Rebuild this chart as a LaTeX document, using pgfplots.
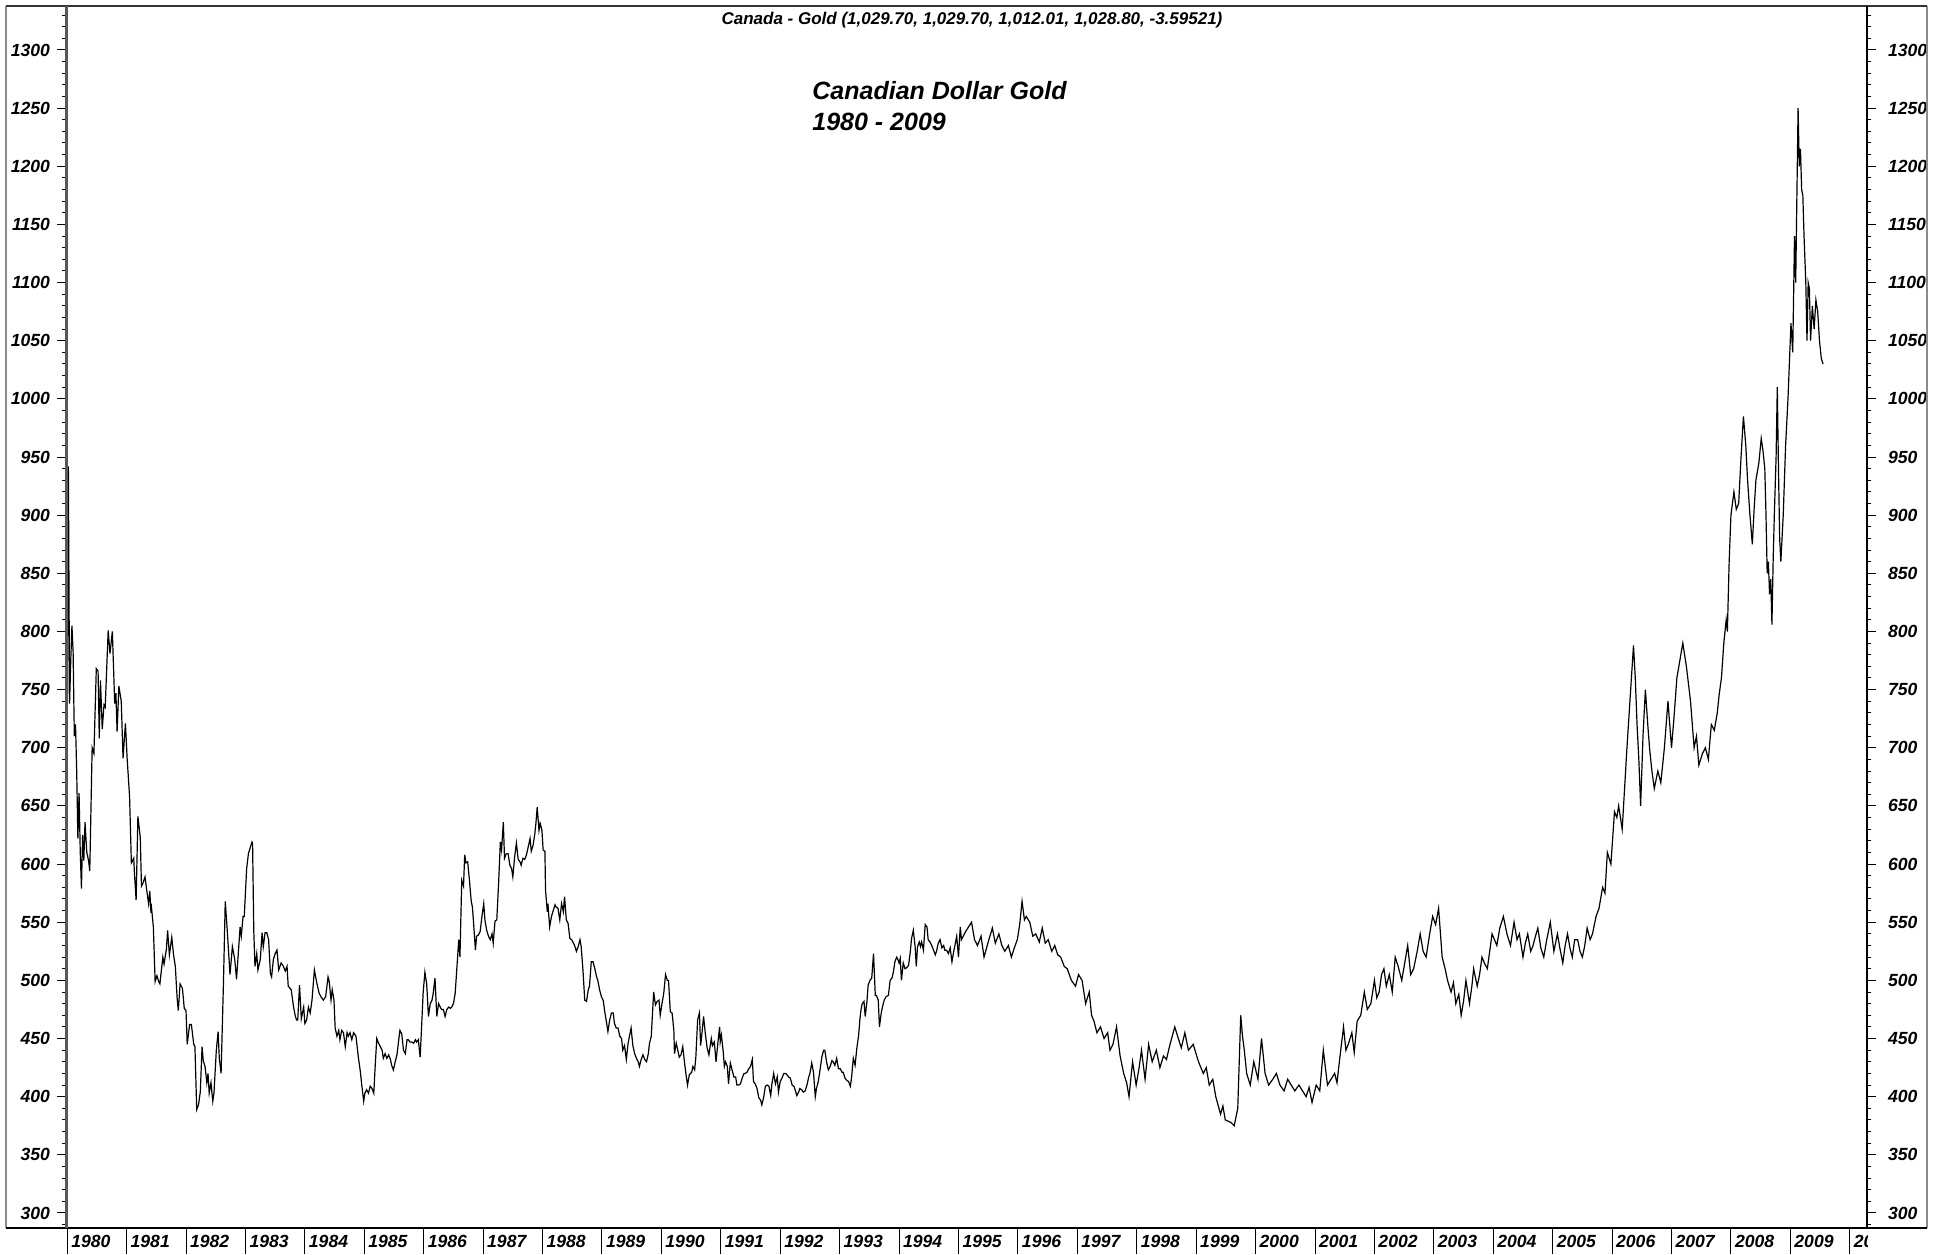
\documentclass[border=0pt]{standalone}
\usepackage{fontspec}
\setmainfont{Liberation Sans}
\usepackage{pgfplots}
\pgfplotsset{compat=1.18}

\newcommand\tickfont{\fontsize{8.8}{10}\selectfont\bfseries\itshape}

\pgfplotsset{
  goldaxis/.style={
    scale only axis, width=900.5pt, height=611pt,
    at={(33pt,13pt)}, anchor=south west,
    xmin=1979.98, xmax=2010.29, ymin=287.1, ymax=1337.8,
    axis line style={draw=none},
    tick align=outside,
    tick style={black, line width=0.5pt},
    /pgf/number format/assume math mode=true,
    /pgf/number format/1000 sep={},
  },
}

\begin{document}
\begin{tikzpicture}
% main axis: data and left scale
\begin{axis}[goldaxis,
  xtick=\empty,
  ytick={300,350,...,1300},
  minor ytick={290,300,...,1330},
  ytick pos=left, yticklabel pos=left,
  major tick length=4.5pt, minor tick length=2pt,
  yticklabel style={font=\tickfont},
]
\addplot[black, line width=0.6pt] table {
1980.00 704
1980.02 942
1980.04 738
1980.06 775
1980.08 805
1980.10 782
1980.12 710
1980.14 720
1980.16 680
1980.18 622
1980.20 661
1980.22 610
1980.24 579
1980.26 625
1980.28 603
1980.30 636
1980.33 610
1980.36 603
1980.38 594
1980.42 700
1980.45 695
1980.49 768
1980.52 766
1980.54 708
1980.56 758
1980.59 716
1980.62 737
1980.64 735
1980.69 801
1980.72 781
1980.76 800
1980.80 738
1980.82 747
1980.84 714
1980.87 753
1980.91 740
1980.94 691
1980.98 721
1981.01 690
1981.05 658
1981.08 601
1981.12 605
1981.13 594
1981.16 569
1981.19 641
1981.23 623
1981.25 581
1981.27 583
1981.31 589
1981.34 577
1981.37 566
1981.39 577
1981.41 558
1981.42 562
1981.45 546
1981.48 499
1981.51 504
1981.54 499
1981.56 497
1981.61 520
1981.63 514
1981.67 527
1981.69 543
1981.72 522
1981.76 537
1981.79 522
1981.82 512
1981.85 485
1981.87 474
1981.90 497
1981.94 493
1981.97 476
1982.00 474
1982.02 445
1982.06 462
1982.09 462
1982.13 445
1982.15 443
1982.18 389
1982.21 393
1982.24 404
1982.27 443
1982.29 431
1982.32 426
1982.35 412
1982.37 420
1982.39 403
1982.42 412
1982.45 396
1982.47 403
1982.51 440
1982.54 456
1982.56 433
1982.59 420
1982.63 498
1982.66 568
1982.69 546
1982.74 505
1982.78 529
1982.82 518
1982.85 501
1982.91 546
1982.93 538
1982.96 555
1982.98 555
1983.02 596
1983.05 609
1983.08 614
1983.11 619
1983.12 618
1983.14 543
1983.16 512
1983.19 523
1983.21 509
1983.25 518
1983.28 541
1983.30 529
1983.33 541
1983.36 541
1983.39 535
1983.42 506
1983.44 503
1983.47 518
1983.50 523
1983.53 526
1983.56 509
1983.60 515
1983.64 512
1983.67 508
1983.70 512
1983.72 495
1983.77 492
1983.81 477
1983.84 469
1983.86 466
1983.88 466
1983.91 496
1983.94 467
1983.98 477
1984.00 463
1984.03 466
1984.06 477
1984.09 472
1984.12 483
1984.16 509
1984.20 498
1984.24 489
1984.27 486
1984.31 483
1984.35 486
1984.39 503
1984.41 499
1984.44 483
1984.46 492
1984.49 483
1984.51 459
1984.54 452
1984.57 457
1984.59 449
1984.62 457
1984.65 455
1984.68 443
1984.71 455
1984.73 452
1984.76 455
1984.79 449
1984.82 455
1984.86 452
1984.90 434
1984.93 423
1984.96 409
1984.99 396
1985.01 403
1985.04 406
1985.07 403
1985.10 409
1985.13 407
1985.16 403
1985.18 423
1985.21 450
1985.24 446
1985.27 443
1985.30 440
1985.32 433
1985.35 437
1985.38 433
1985.41 436
1985.44 432
1985.46 427
1985.49 423
1985.52 430
1985.55 436
1985.58 449
1985.60 457
1985.63 454
1985.66 440
1985.69 437
1985.72 449
1985.74 449
1985.77 447
1985.80 447
1985.83 446
1985.86 449
1985.88 447
1985.91 449
1985.94 434
1985.97 466
1985.99 489
1986.02 507
1986.05 497
1986.08 469
1986.11 480
1986.14 483
1986.16 489
1986.19 502
1986.22 469
1986.25 480
1986.28 477
1986.30 475
1986.33 475
1986.36 469
1986.39 475
1986.42 477
1986.45 476
1986.47 477
1986.50 480
1986.53 489
1986.56 512
1986.59 535
1986.61 520
1986.64 586
1986.67 581
1986.69 608
1986.71 601
1986.74 602
1986.77 586
1986.80 568
1986.82 563
1986.84 549
1986.87 526
1986.89 538
1986.92 539
1986.95 542
1986.98 555
1987.01 566
1987.03 552
1987.06 543
1987.09 538
1987.12 535
1987.15 540
1987.17 532
1987.20 551
1987.23 552
1987.26 583
1987.29 619
1987.31 612
1987.34 636
1987.36 605
1987.39 609
1987.42 609
1987.45 599
1987.48 596
1987.50 589
1987.53 606
1987.56 618
1987.59 604
1987.62 602
1987.64 599
1987.67 605
1987.70 604
1987.73 608
1987.76 615
1987.79 622
1987.81 611
1987.84 616
1987.87 626
1987.89 636
1987.91 649
1987.94 629
1987.96 635
1987.99 629
1988.01 612
1988.04 611
1988.05 578
1988.08 559
1988.09 566
1988.12 546
1988.15 555
1988.18 560
1988.21 565
1988.23 563
1988.26 562
1988.29 552
1988.32 566
1988.35 559
1988.37 572
1988.40 552
1988.43 549
1988.46 536
1988.49 535
1988.51 533
1988.54 530
1988.57 525
1988.60 529
1988.63 535
1988.65 529
1988.68 509
1988.71 483
1988.74 482
1988.77 492
1988.79 495
1988.82 516
1988.85 516
1988.88 510
1988.91 503
1988.93 500
1988.96 492
1988.99 486
1989.02 483
1989.05 472
1989.07 466
1989.10 456
1989.13 466
1989.16 472
1989.19 472
1989.21 463
1989.24 459
1989.27 459
1989.30 452
1989.33 450
1989.35 440
1989.38 444
1989.41 432
1989.44 446
1989.47 454
1989.49 459
1989.52 444
1989.55 437
1989.58 433
1989.61 430
1989.63 426
1989.66 432
1989.69 436
1989.72 432
1989.75 430
1989.78 437
1989.80 446
1989.83 452
1989.87 490
1989.90 479
1989.93 482
1989.96 483
1989.98 470
1990.01 480
1990.04 489
1990.07 505
1990.10 500
1990.12 500
1990.14 482
1990.15 473
1990.18 472
1990.21 457
1990.22 437
1990.25 446
1990.28 439
1990.30 434
1990.33 436
1990.36 443
1990.39 429
1990.42 417
1990.44 410
1990.47 419
1990.51 421
1990.53 426
1990.56 423
1990.58 434
1990.61 466
1990.64 472
1990.66 444
1990.68 453
1990.71 469
1990.74 454
1990.77 442
1990.80 436
1990.84 450
1990.86 444
1990.89 447
1990.92 430
1990.95 446
1990.98 460
1990.99 447
1991.01 453
1991.04 439
1991.06 426
1991.08 430
1991.11 426
1991.13 411
1991.16 429
1991.19 423
1991.22 417
1991.25 417
1991.27 410
1991.30 410
1991.33 411
1991.36 416
1991.39 420
1991.41 420
1991.44 421
1991.47 424
1991.50 426
1991.53 432
1991.55 413
1991.58 411
1991.61 407
1991.64 399
1991.67 397
1991.69 393
1991.72 399
1991.75 409
1991.78 410
1991.81 409
1991.84 401
1991.86 411
1991.89 420
1991.92 411
1991.95 417
1991.97 404
1992.00 413
1992.03 416
1992.06 420
1992.09 420
1992.11 419
1992.14 417
1992.17 416
1992.20 410
1992.23 409
1992.25 406
1992.28 401
1992.31 404
1992.33 407
1992.36 406
1992.39 404
1992.42 405
1992.45 410
1992.48 417
1992.50 420
1992.53 429
1992.56 421
1992.59 400
1992.61 407
1992.64 413
1992.67 423
1992.70 434
1992.73 440
1992.75 440
1992.78 430
1992.81 423
1992.84 426
1992.87 431
1992.89 430
1992.92 427
1992.95 433
1992.98 424
1993.01 424
1993.04 421
1993.06 421
1993.09 416
1993.12 414
1993.15 413
1993.18 409
1993.20 416
1993.23 433
1993.26 427
1993.29 442
1993.32 453
1993.34 466
1993.36 475
1993.38 480
1993.41 482
1993.43 469
1993.46 482
1993.48 496
1993.51 500
1993.54 502
1993.57 523
1993.60 487
1993.62 487
1993.65 483
1993.67 460
1993.70 472
1993.72 477
1993.75 483
1993.78 486
1993.82 487
1993.85 500
1993.88 502
1993.90 506
1993.93 516
1993.96 520
1993.98 518
1994.00 515
1994.02 519
1994.04 500
1994.07 515
1994.10 510
1994.13 511
1994.16 513
1994.19 525
1994.21 536
1994.24 543
1994.27 529
1994.29 512
1994.31 529
1994.34 533
1994.36 529
1994.38 533
1994.41 526
1994.44 548
1994.47 546
1994.49 535
1994.52 533
1994.55 530
1994.58 526
1994.61 522
1994.63 525
1994.66 532
1994.69 535
1994.72 528
1994.75 530
1994.77 526
1994.80 526
1994.83 523
1994.86 528
1994.89 516
1994.92 525
1994.94 530
1994.97 538
1995.00 520
1995.03 546
1995.05 535
1995.12 542
1995.22 550
1995.27 535
1995.32 530
1995.38 538
1995.43 520
1995.50 533
1995.57 545
1995.62 532
1995.68 540
1995.73 530
1995.78 525
1995.84 530
1995.89 520
1995.94 528
1995.99 535
1996.03 548
1996.07 568
1996.11 552
1996.14 555
1996.20 550
1996.25 538
1996.30 540
1996.36 533
1996.41 545
1996.46 532
1996.51 535
1996.57 525
1996.62 530
1996.67 522
1996.72 520
1996.78 512
1996.83 510
1996.90 500
1996.97 495
1997.02 505
1997.08 500
1997.14 480
1997.20 490
1997.24 470
1997.28 465
1997.33 455
1997.39 460
1997.45 450
1997.51 455
1997.55 440
1997.60 445
1997.66 460
1997.72 435
1997.78 420
1997.83 412
1997.87 400
1997.93 430
1997.99 410
1998.04 425
1998.08 440
1998.14 415
1998.20 445
1998.26 430
1998.33 440
1998.39 425
1998.45 435
1998.50 432
1998.56 445
1998.64 460
1998.70 450
1998.75 442
1998.81 455
1998.87 440
1998.95 445
1999.04 430
1999.12 420
1999.17 425
1999.22 410
1999.28 415
1999.33 400
1999.41 385
1999.45 392
1999.49 380
1999.58 378
1999.64 375
1999.70 390
1999.75 470
1999.78 452
1999.81 440
1999.85 420
1999.91 410
1999.97 430
2000.04 415
2000.10 450
2000.16 420
2000.22 410
2000.29 415
2000.35 420
2000.41 410
2000.48 405
2000.54 415
2000.60 410
2000.66 405
2000.73 410
2000.79 405
2000.85 400
2000.90 408
2000.95 395
2001.02 410
2001.08 405
2001.14 440
2001.21 410
2001.27 415
2001.33 420
2001.37 412
2001.41 430
2001.48 460
2001.52 440
2001.56 445
2001.62 455
2001.66 438
2001.71 465
2001.77 470
2001.83 490
2001.88 475
2001.94 480
2002.00 500
2002.04 485
2002.08 490
2002.12 505
2002.16 510
2002.20 495
2002.25 505
2002.30 490
2002.35 520
2002.40 512
2002.46 500
2002.51 515
2002.56 530
2002.61 505
2002.66 510
2002.72 525
2002.77 540
2002.82 525
2002.87 520
2002.93 540
2002.98 555
2003.03 548
2003.08 562
2003.14 520
2003.19 510
2003.23 500
2003.29 490
2003.33 498
2003.37 480
2003.42 488
2003.46 470
2003.50 482
2003.54 500
2003.60 480
2003.64 495
2003.67 510
2003.73 495
2003.77 505
2003.81 520
2003.85 515
2003.90 510
2003.94 525
2003.98 540
2004.02 535
2004.06 530
2004.11 545
2004.17 555
2004.23 540
2004.29 530
2004.35 550
2004.40 535
2004.44 540
2004.50 520
2004.54 532
2004.58 540
2004.63 525
2004.67 530
2004.71 538
2004.75 545
2004.80 528
2004.85 520
2004.90 535
2004.96 550
2005.02 525
2005.08 540
2005.12 528
2005.17 515
2005.21 530
2005.25 540
2005.29 528
2005.33 520
2005.37 535
2005.42 535
2005.46 525
2005.50 520
2005.54 530
2005.58 545
2005.63 535
2005.67 540
2005.73 555
2005.78 562
2005.84 580
2005.88 575
2005.92 610
2005.98 600
2006.04 645
2006.08 640
2006.11 650
2006.17 630
2006.21 665
2006.25 700
2006.30 740
2006.36 788
2006.39 760
2006.42 720
2006.45 690
2006.48 650
2006.52 710
2006.56 750
2006.60 720
2006.63 700
2006.67 680
2006.71 665
2006.77 680
2006.82 670
2006.88 700
2006.94 740
2007.00 700
2007.04 725
2007.09 760
2007.14 775
2007.19 790
2007.25 770
2007.32 740
2007.38 700
2007.42 710
2007.46 685
2007.52 695
2007.57 700
2007.62 690
2007.67 720
2007.72 715
2007.77 730
2007.80 745
2007.84 760
2007.88 790
2007.92 810
2007.94 800
2007.97 860
2008.00 900
2008.05 920
2008.09 905
2008.13 910
2008.17 950
2008.21 985
2008.25 960
2008.28 930
2008.32 900
2008.36 875
2008.39 905
2008.42 930
2008.47 945
2008.51 966
2008.54 955
2008.57 940
2008.59 900
2008.61 850
2008.63 860
2008.65 832
2008.67 845
2008.69 806
2008.71 860
2008.73 900
2008.76 950
2008.78 1010
2008.80 940
2008.82 880
2008.84 860
2008.88 900
2008.92 960
2008.96 1000
2009.01 1065
2009.04 1040
2009.07 1140
2009.09 1100
2009.13 1250
2009.15 1200
2009.17 1215
2009.19 1180
2009.21 1175
2009.23 1140
2009.26 1100
2009.28 1050
2009.30 1100
2009.32 1095
2009.34 1050
2009.37 1080
2009.40 1060
2009.43 1085
2009.46 1075
2009.49 1050
2009.52 1035
2009.55 1030
};
\end{axis}
% right scale
\begin{axis}[goldaxis,
  xtick=\empty,
  ytick={300,350,...,1300},
  minor ytick={290,300,...,1330},
  ytick pos=right, yticklabel pos=right,
  major tick length=4.5pt, minor tick length=2pt,
  yticklabel style={font=\tickfont, xshift=2.5pt},
]
\end{axis}
% year separators along the bottom
\begin{scope}
\clip (0pt,0pt) rectangle (933.5pt,627pt);
\begin{axis}[goldaxis,
  ytick=\empty,
  xtick={1980,1981,...,2010},
  xtick pos=left, xticklabel pos=left,
  major tick length=13pt,
  xticklabel style={font=\tickfont, anchor=west, xshift=-1.5pt, yshift=6.5pt},
]
\end{axis}
\end{scope}
% frame
\draw[black!45, line width=0.6pt] (3pt,13pt) -- (3pt,624pt);
\draw[black!45, line width=0.6pt] (963.5pt,13pt) -- (963.5pt,624pt);
\draw[black!80, line width=0.9pt] (3pt,624pt) -- (963.5pt,624pt);
\draw[black, line width=0.8pt] (3pt,13pt) -- (963.5pt,13pt);
\draw[black!65, line width=1.5pt] (33pt,13pt) -- (33pt,624pt);
\draw[black, line width=1pt] (933.5pt,13pt) -- (933.5pt,624pt);
% titles
\node[font=\fontsize{8.5}{10}\selectfont\bfseries\itshape] at (486pt,617pt)
  {Canada - Gold (1,029.70, 1,029.70, 1,012.01, 1,028.80, -3.59521)};
\node[font=\fontsize{12.5}{15}\selectfont\bfseries\itshape, anchor=base west, inner sep=0pt]
  at (406pt,577pt) {Canadian Dollar Gold};
\node[font=\fontsize{12.5}{15}\selectfont\bfseries\itshape, anchor=base west, inner sep=0pt]
  at (406pt,561.5pt) {1980 - 2009};
\pgfresetboundingbox
\useasboundingbox (0pt,0pt) rectangle (972pt,627pt);
\end{tikzpicture}
\end{document}
